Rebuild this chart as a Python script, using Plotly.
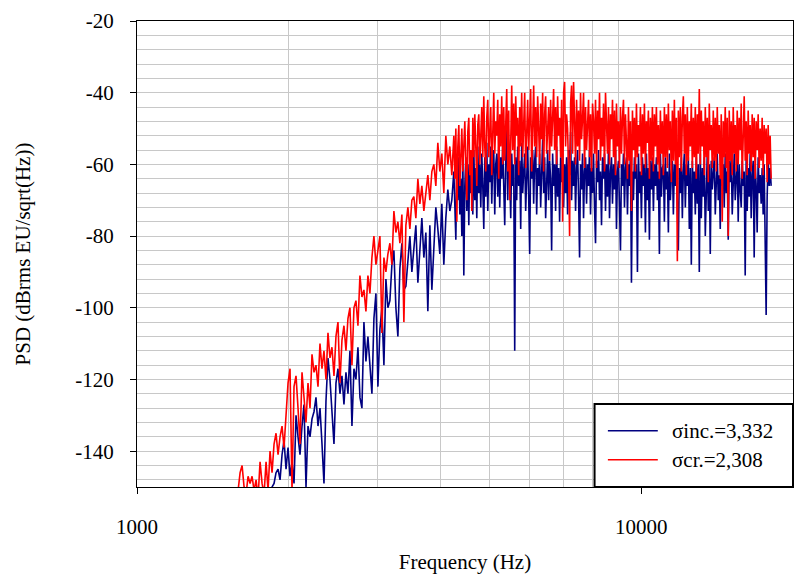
import numpy as np
import plotly.graph_objects as go

# Frequency sampling grid (Hz): log-spaced bins, coarser on the rising edge,
# finer on the high-frequency plateau (start Hz, end Hz, number of bins)
GRID_RISE = (1558.0, 4211.0, 110)
GRID_PLATEAU = (4250.0, 18100.0, 319)

# PSD values (dBrms EU/sqrt(Hz)), low -> high frequency
psd_inc = [
    # rising edge
    -160, -158, -162, -157, -160, -158, -161, -157, -159, -156,
    -157, -155, -158, -154, -156, -153, -155, -152, -154, -150,
    -149, -146, -145, -148, -141, -137, -145, -139, -147, -143,
    -149, -130, -136, -141, -133, -127, -150, -133, -136, -131,
    -129, -125, -133, -128, -138, -149, -126, -114, -120, -129,
    -138, -121, -117, -124, -119, -127, -118, -124, -112, -133,
    -117, -120, -111, -125, -128, -104, -115, -108, -117, -124,
    -103, -96, -122, -106, -100, -116, -92, -100, -98, -88,
    -84, -100, -108, -89, -82, -95, -94, -86, -80, -90,
    -84, -77, -93, -82, -75, -86, -79, -101, -77, -95,
    -82, -72, -78, -85, -71, -88, -75, -67, -73, -70,
    # plateau
    -62, -75, -81, -60, -70, -58, -74, -64, -80, -57,
    -91, -66, -58, -73, -60, -77, -57, -68, -62, -74,
    -56, -70, -61, -75, -55, -68, -60, -72, -57, -66,
    -78, -58, -69, -54, -73, -60, -65, -55, -71, -59,
    -56, -74, -60, -57, -69, -55, -72, -58, -64, -55,
    -67, -77, -59, -48, -70, -56, -63, -75, -57, -66,
    -60, -112, -58, -70, -55, -66, -59, -78, -54, -68,
    -62, -57, -73, -60, -55, -69, -85, -58, -64, -56,
    -71, -59, -55, -74, -61, -66, -57, -72, -60, -53,
    -68, -58, -75, -62, -56, -70, -59, -64, -84, -57,
    -66, -60, -73, -55, -69, -61, -76, -58, -65, -57,
    -72, -60, -68, -58, -74, -56, -63, -51, -70, -59,
    -66, -58, -73, -61, -56, -69, -86, -60, -67, -57,
    -75, -62, -58, -71, -60, -66, -56, -74, -61, -68,
    -57, -72, -82, -59, -65, -56, -70, -62, -77, -58,
    -64, -57, -73, -60, -69, -56, -75, -62, -58, -71,
    -60, -67, -56, -78, -62, -59, -73, -84, -60, -66,
    -57, -72, -61, -58, -74, -60, -66, -57, -93, -62,
    -70, -58, -64, -60, -90, -57, -68, -62, -75, -58,
    -66, -60, -79, -57, -70, -61, -81, -59, -67, -58,
    -73, -60, -66, -58, -70, -62, -85, -57, -69, -61,
    -60, -76, -58, -67, -62, -79, -57, -70, -63, -59,
    -74, -60, -66, -57, -71, -84, -61, -68, -58, -75,
    -62, -57, -72, -60, -66, -58, -78, -61, -88, -59,
    -68, -62, -74, -58, -71, -60, -90, -57, -75, -61,
    -69, -58, -80, -62, -57, -73, -60, -85, -59, -67,
    -62, -58, -74, -61, -57, -70, -63, -78, -59, -66,
    -60, -72, -57, -68, -62, -81, -59, -65, -58, -74,
    -61, -57, -70, -63, -58, -76, -60, -67, -72, -59,
    -66, -62, -91, -58, -73, -61, -69, -57, -75, -63,
    -59, -86, -60, -66, -79, -58, -68, -63, -71, -61,
    -74, -60, -82, -102, -69, -58, -66, -61, -66,
]

psd_cr = [
    # rising edge
    -156, -153, -151, -146, -144, -150, -152, -147, -149, -147,
    -151, -148, -153, -143, -149, -152, -143, -151, -140, -146,
    -138, -135, -141, -136, -133, -139, -130, -121, -117, -151,
    -122, -119, -128, -138, -118, -124, -132, -121, -128, -113,
    -118, -116, -122, -110, -117, -112, -120, -107, -114, -111,
    -119, -108, -104, -121, -109, -105, -112, -103, -100, -116,
    -100, -98, -105, -91, -97, -95, -101, -91, -96, -86,
    -80, -88, -84, -80, -107, -86, -90, -85, -82, -88,
    -73, -79, -76, -82, -74, -104, -77, -72, -78, -70,
    -69, -75, -64, -71, -66, -73, -68, -63, -70, -62,
    -60, -66, -54, -62, -57, -68, -52, -60, -55, -63,
    # plateau
    -52, -64, -50, -76, -55, -49, -66, -58, -50, -62,
    -53, -48, -60, -70, -51, -47, -63, -56, -73, -47,
    -58, -46, -55, -66, -49, -46, -60, -52, -44, -58,
    -41, -55, -62, -47, -42, -58, -51, -44, -63, -45,
    -40, -57, -48, -52, -42, -64, -46, -55, -41, -60,
    -44, -59, -50, -39, -62, -45, -70, -48, -38, -56,
    -43, -60, -41, -52, -47, -63, -44, -55, -40, -58,
    -46, -40, -61, -49, -42, -56, -47, -39, -62, -45,
    -38, -55, -44, -58, -41, -50, -60, -43, -53, -40,
    -62, -46, -41, -57, -49, -44, -59, -42, -55, -47,
    -39, -56, -44, -60, -41, -52, -47, -58, -42, -76,
    -40, -37, -55, -46, -50, -62, -80, -43, -38, -57,
    -37, -48, -60, -42, -55, -45, -59, -40, -53, -47,
    -40, -61, -44, -56, -48, -42, -58, -46, -62, -43,
    -48, -57, -42, -61, -45, -53, -40, -59, -47, -55,
    -43, -62, -40, -50, -57, -44, -60, -46, -53, -42,
    -58, -45, -63, -43, -55, -48, -61, -44, -57, -47,
    -42, -60, -46, -54, -64, -44, -59, -48, -73, -45,
    -56, -47, -62, -43, -58, -49, -55, -44, -63, -46,
    -57, -43, -61, -48, -54, -45, -64, -47, -59, -44,
    -62, -46, -55, -44, -60, -49, -64, -45, -57, -48,
    -63, -44, -58, -46, -61, -43, -56, -48, -65, -45,
    -59, -42, -60, -47, -87, -45, -58, -44, -62, -47,
    -41, -57, -46, -63, -44, -59, -48, -55, -43, -61,
    -47, -58, -44, -64, -46, -57, -39, -60, -45, -55,
    -48, -63, -44, -58, -47, -65, -43, -56, -49, -61,
    -45, -59, -47, -62, -44, -57, -49, -64, -46, -76,
    -48, -58, -44, -61, -47, -80, -45, -59, -48, -63,
    -44, -57, -49, -62, -45, -60, -47, -56, -43, -64,
    -46, -41, -59, -48, -63, -45, -57, -49, -62, -46,
    -58, -47, -64, -48, -56, -46, -61, -50, -59, -47,
    -63, -49, -57, -50, -65, -49, -60, -52, -64,
]

series_names = ["\u03c3inc.=3,332", "\u03c3cr.=2,308"]
series_colors = ["#000080", "#ff0000"]

x_tick_vals = [1000, 10000]
x_tick_text = ["1000", "10000"]
x_grid_vals = [2000, 3000, 4000, 5000, 6000, 7000, 8000, 9000]
y_tick_vals = [-140, -120, -100, -80, -60, -40, -20]
y_tick_text = ["-140", "-120", "-100", "-80", "-60", "-40", "-20"]

freqs = np.concatenate([np.geomspace(*GRID_RISE), np.geomspace(*GRID_PLATEAU)])

FONT = "Liberation Serif, Times New Roman, serif"

fig = go.Figure()
for name, vals, col in zip(series_names, [psd_inc, psd_cr], series_colors):
    n = min(len(vals), len(freqs))
    fig.add_trace(go.Scatter(
        x=freqs[:n], y=vals[:n], mode="lines", name=name,
        line=dict(color=col, width=1.6), showlegend=False,
    ))

fig.update_layout(
    width=803, height=574,
    margin=dict(l=137, r=10, t=21, b=87),
    paper_bgcolor="white", plot_bgcolor="white",
    font=dict(family=FONT, size=21, color="black"),
    showlegend=False,
)

fig.update_xaxes(
    type="log", range=[3, np.log10(20000)], automargin=False,
    tickmode="array", tickvals=x_tick_vals, ticktext=x_tick_text,
    ticks="outside", ticklen=6, tickcolor="black", tickwidth=1,
    ticklabelstandoff=15,
    showgrid=False, zeroline=False,
    showline=True, linecolor="black", linewidth=1, mirror=True,
    minor=dict(tickmode="array", tickvals=x_grid_vals, showgrid=True,
               gridcolor="#c8c8c8", gridwidth=1, ticks=""),
    title=dict(text="Frequency (Hz)", font=dict(size=21), standoff=16),
)

fig.update_yaxes(
    range=[-150, -20], automargin=False,
    tickmode="array", tickvals=y_tick_vals, ticktext=y_tick_text,
    ticks="outside", ticklen=6, tickcolor="black", tickwidth=1,
    ticklabelstandoff=12,
    showgrid=False, zeroline=False,
    showline=True, linecolor="black", linewidth=1, mirror=True,
    minor=dict(dtick=4, tick0=0, showgrid=True, gridcolor="#c8c8c8",
               gridwidth=1, ticks=""),
    title=dict(text="PSD (dBrms EU/sqrt(Hz))", font=dict(size=21), standoff=38),
)

# Legend box drawn in the lower-right corner of the plot area
fig.add_shape(type="rect", xref="paper", yref="paper",
              x0=0.6975, x1=1.0, y0=0.0, y1=0.178,
              line=dict(color="black", width=2), fillcolor="white", layer="above")
legend_rows = [0.1207, 0.0585]
for name, col, yy in zip(series_names, series_colors, legend_rows):
    fig.add_shape(type="line", xref="paper", yref="paper",
                  x0=0.7178, x1=0.7939, y0=yy, y1=yy,
                  line=dict(color=col, width=1.5), layer="above")
    fig.add_annotation(xref="paper", yref="paper", x=0.8122, y=yy,
                       text=name, showarrow=False, xanchor="left", yanchor="middle",
                       font=dict(family=FONT, size=21, color="black"))

fig.write_html("out.html")
